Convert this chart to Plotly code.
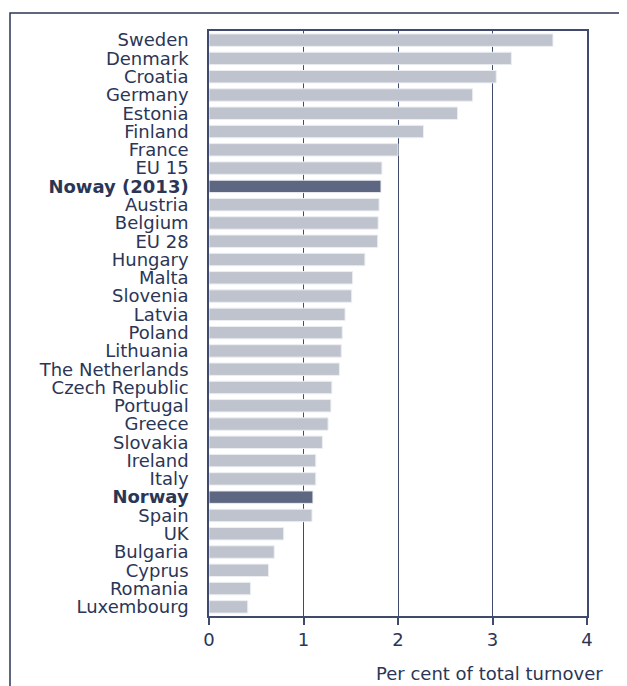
import plotly.graph_objects as go

categories = ["Sweden", "Denmark", "Croatia", "Germany", "Estonia", "Finland", "France",
              "EU 15", "Noway (2013)", "Austria", "Belgium", "EU 28", "Hungary", "Malta",
              "Slovenia", "Latvia", "Poland", "Lithuania", "The Netherlands", "Czech Republic",
              "Portugal", "Greece", "Slovakia", "Ireland", "Italy", "Norway", "Spain", "UK",
              "Bulgaria", "Cyprus", "Romania", "Luxembourg"]
values = [3.64, 3.20, 3.04, 2.79, 2.63, 2.27, 2.00,
          1.83, 1.82, 1.80, 1.79, 1.785, 1.65, 1.52,
          1.51, 1.44, 1.41, 1.40, 1.38, 1.30,
          1.29, 1.26, 1.20, 1.13, 1.13, 1.10, 1.09, 0.79,
          0.69, 0.63, 0.44, 0.41]
highlight = ["Noway (2013)", "Norway"]
x_ticks = [0, 1, 2, 3, 4]
x_title = "Per cent of total turnover"

NAVY = "#2b3656"
GRID = "#3f4a6c"
GREY_BAR = "#bfc3cd"
DARK_BAR = "#5d6781"

colors = [DARK_BAR if c in highlight else GREY_BAR for c in categories]
ticktext = ["<b>%s</b>" % c if c in highlight else c for c in categories]

# page body has an 8px margin; figure origin is at (8, 8) in the window
W, H = 619, 678
L, T, R, B = 201, 23, 40, 70
plot_w = W - L - R
plot_h = H - T - B

fig = go.Figure(go.Bar(
    y=categories, x=values, orientation="h",
    marker=dict(color=colors, line=dict(color="#eceef2", width=1)),
    width=0.68,
))

fig.update_layout(
    width=W, height=H,
    margin=dict(l=L, r=R, t=T, b=B),
    paper_bgcolor="white", plot_bgcolor="white",
    font=dict(family="DejaVu Sans, Verdana, sans-serif", color=NAVY, size=18),
    showlegend=False,
)
fig.update_xaxes(
    range=[0, 4], tickvals=x_ticks, ticktext=[str(t) for t in x_ticks],
    showgrid=True, gridcolor=GRID, gridwidth=1,
    showline=True, linecolor=GRID, linewidth=1.5, mirror=True,
    ticks="outside", ticklen=7, tickcolor=GRID, tickwidth=1.5,
    tickfont=dict(size=18, color=NAVY), zeroline=False,
)
fig.update_yaxes(
    categoryorder="array", categoryarray=categories, autorange="reversed",
    tickvals=categories, ticktext=ticktext,
    showgrid=False, showline=True, linecolor=GRID, linewidth=1.5, mirror=True,
    ticks="", ticklabelstandoff=15,
    tickfont=dict(size=18, color=NAVY),
)

fig.add_annotation(
    text=x_title, xref="paper", yref="paper",
    x=(605 - 209) / plot_w, y=(616 - 673) / plot_h,
    xanchor="right", yanchor="middle", showarrow=False,
    font=dict(size=18, color=NAVY),
)

fig.add_shape(
    type="rect", xref="paper", yref="paper",
    x0=(10 - 209) / plot_w, x1=(660 - 209) / plot_w,
    y0=(616 - 720) / plot_h, y1=(616 - 13) / plot_h,
    line=dict(color=NAVY, width=1.5), fillcolor="rgba(0,0,0,0)",
    layer="below",
)

fig.write_html("out.html")
